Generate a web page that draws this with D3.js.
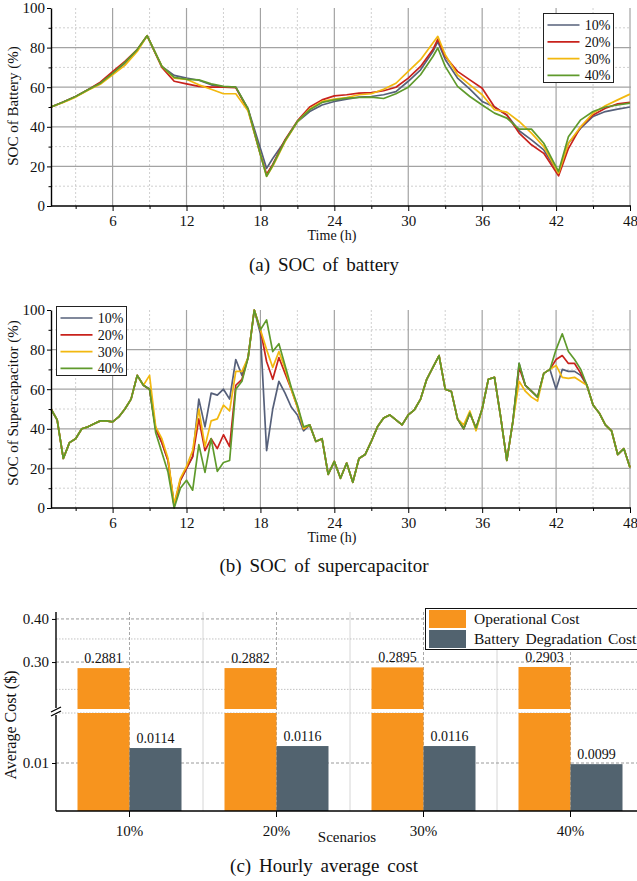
<!DOCTYPE html>
<html><head><meta charset="utf-8">
<script src="https://cdn.jsdelivr.net/npm/d3@7"></script>
<style>
body{margin:0;background:#fff}
svg{display:block;background:#fff}
text{font-family:"Liberation Serif","Times New Roman",serif;fill:#111}
</style>
</head><body>
<svg id="chart" width="637" height="881"></svg>
<script>
// ---------- DATA ----------
const seriesNames = ["10%", "20%", "30%", "40%"];
const seriesColors = ["#56607a", "#c8221c", "#f2b80f", "#5f9a2c"];

const xMajorTicks = [6, 12, 18, 24, 30, 36, 42, 48];
const xMinorTicks = [3, 9, 15, 21, 27, 33, 39, 45];
const yMajorTicks = [0, 20, 40, 60, 80, 100];
const yMinorTicks = [10, 30, 50, 70, 90];

// (a) battery SOC
const hoursA = [1,2,3,4,5,6,7,8,8.8,10,11,12,13,14,15,16,17,18,18.5,19,20,21,22,23,24,25,26,27,28,29,30,31,32,32.4,33,34,35,36,37,38,39,40,41,42.2,43,44,45,46,47,48];
const battery10 = [50,52.5,55.3,58.7,62,67,72,78.5,86,70.5,66,64.6,63.5,61.2,60,60,49,29,19,24,33,42.5,47.7,51,52.8,54,55,55.3,56.2,57.8,63,68.8,78,83,74,64.6,59,52.8,50,46,38,33.4,28.3,16.5,31.7,39.3,45.2,47.7,48.9,50];
const battery20 = [50,52.5,55.3,58.7,62.5,67.8,73,79,86,70,63,61.7,60.4,60,60,59.8,48.5,26,16,21,33.5,43,50,53.6,55.6,56.2,57,57.3,58.2,60,64.6,70.5,79,84.3,75.5,68,63.7,59.5,50,46,36.8,30.9,26.6,15.2,29,40,46,49.4,51.6,52.3];
const battery30 = [50,52.3,55,58.5,61.5,66.3,71,78,86,70.5,64.6,64,61.2,59,56.7,56.7,48,26,15,20,32.5,42.5,49,52.8,54,54.8,56.2,56.7,59,62,68,73.9,82.3,85.7,76.4,66.3,61.2,56.2,48.6,47.4,42.7,36.8,30,16.5,31.7,40,46.9,50.6,53.6,56.5];
const battery40 = [50,52.5,55.3,58.7,62,67,72.5,79,86,70.5,65,64,63.7,61.7,60.4,60,49,26,15,20.5,33,42.7,48.6,52.3,53.6,54.5,54.8,55,54.3,56.7,60,66.3,75.5,79.8,70.5,60.4,55.3,51,46.9,44.4,38.8,38.8,31.7,17.4,35,43.5,47.7,50,51,52];

// (b) supercapacitor SOC (half-hourly)
const hoursB = [1,1.5,2,2.5,3,3.5,4,4.5,5,5.5,6,6.5,7,7.5,8,8.5,9,9.5,10,10.5,11,11.5,12,12.5,13,13.5,14,14.5,15,15.5,16,16.5,17,17.5,18,18.5,19,19.5,20,20.5,21,21.5,22,22.5,23,23.5,24,24.5,25,25.5,26,26.5,27,27.5,28,28.5,29,29.5,30,30.5,31,31.5,32,32.5,33,33.5,34,34.5,35,35.5,36,36.5,37,37.5,38,38.5,39,39.5,40,40.5,41,41.5,42,42.5,43,43.5,44,44.5,45,45.5,46,46.5,47,47.5,48];
const supercap10 = [50,44.5,25,33,35,40,41,42.5,44,44,
  43.5,46,50,55,67,62,60,40,33,24,
  1,14,20,26,55,41,58,57,60,55,
  75,67,76,100,88,29,50,64,58,51,
  47,39,42,33.6,35,17,23.5,15,22.7,13,
  25,27,33.6,41,45.4,47,44.5,42,47,49.6,
  55,65,71,77,60,58.8,45,40,48,40.3,
  50,65,66,46,24,44,73,62,59,56,
  68,70,60,70,69,69,67,62,52,48,
  42,39,27,30,20.5];
const supercap20 = [50,44.5,25,33,35,40,41,42.5,44,44,
  43.5,46,50,55,67,62,60,40,33,24,
  1,14,20,26,45,29,35,30,37,31,
  62,65,76,100,90,74,65,76,68,60,
  51,40,42,33.6,35,17,23.5,15,22.7,13,
  25,27,33.6,41,45.4,47,44.5,42,47,49.6,
  55,65,71,77,60,58.8,45,40,48,40.3,
  50,65,66,46,24,44,71,62,59,56,
  68,70,75,77,73,73,68,62,52,48,
  42,39,27,30,20.5];
const supercap30 = [50,44.5,25,33,35,40,41,42.5,44,44,
  43.5,46,50,55,67,62,67,41,35,25,
  2,15,21,29,50,31,44,45,52,49,
  69,69,76,100,90,80,71,79,70.5,60,
  51,40,42,33.6,35,17,23.5,15,22.7,13,
  25,27,33.6,41,45.4,47,44.5,42,47,49.6,
  55,65,71,77,60,58.8,45,42,49,39,
  50,65,66,46,24,44,64,59,56,54,
  68,70,72,66,65.5,66,64,62,52,48,
  42,39,27,30,20.5];
const supercap40 = [50,44.5,25,33,35,40,41,42.5,44,44,
  43.5,46,50,55,67,62,60,38,28,18,
  0,10,14,9,32,18,35,18.5,23,24,
  60,64,76,100,90,95,79,83,72,61,
  52,41,42,33.6,35,17,23.5,15,22.7,13,
  25,27,33.6,41,45.4,47,44.5,42,47,49.6,
  55,65,71,77,60,58.8,45,40,48,40.3,
  50,65,66,46,24,44,73,62,59,56,
  68,70,80,88,79,75,70,62,52,48,
  42,39,27,30,20.5];

// (c) hourly average cost
const scenarios = ["10%", "20%", "30%", "40%"];
const operationalCost = [0.2881, 0.2882, 0.2895, 0.2903];
const degradationCost = [0.0114, 0.0116, 0.0116, 0.0099];
const costTopTicks = [0.40, 0.30];
const costTopMinor = [0.35, 0.25];
const costBottomTicks = [0.01];
const costSeries = ["Operational Cost", "Battery Degradation Cost"];
const costColors = ["#f7941e", "#52636f"];

// ---------- DRAWING ----------
const svg = d3.select("#chart");
const FONT = '"Liberation Serif","Times New Roman",serif';

function styleAxis(g, size) {
  g.attr("font-family", FONT).attr("font-size", size);
  g.selectAll("text").attr("fill", "#111");
  g.select(".domain").attr("stroke", "#000").attr("stroke-width", 1.4);
  g.selectAll(".tick line").attr("stroke", "#000").attr("stroke-width", 1);
}

function lineChart(opt) {
  const g = svg.append("g");
  const x = d3.scaleLinear().domain([1, 48]).range([51, 630]);
  const y = d3.scaleLinear().domain([0, 100]).range([opt.bottom, opt.top]);
  const left = 51, right = 631;

  // minor grid
  g.selectAll(".vminor").data(xMinorTicks).join("line")
    .attr("x1", d => x(d)).attr("x2", d => x(d))
    .attr("y1", opt.top).attr("y2", opt.bottom)
    .attr("stroke", "#c4c4c4").attr("stroke-width", 0.8).attr("stroke-dasharray", "2,2");
  g.selectAll(".hminor").data(yMinorTicks).join("line")
    .attr("x1", left).attr("x2", right)
    .attr("y1", d => y(d)).attr("y2", d => y(d))
    .attr("stroke", "#c4c4c4").attr("stroke-width", 0.8).attr("stroke-dasharray", "2,2");
  // major grid
  g.selectAll(".vmajor").data(xMajorTicks).join("line")
    .attr("x1", d => x(d)).attr("x2", d => x(d))
    .attr("y1", opt.top).attr("y2", opt.bottom)
    .attr("stroke", "#a3a3a3").attr("stroke-width", 1.2);
  g.selectAll(".hmajor").data(yMajorTicks.filter(d => d > 0 && d < 100)).join("line")
    .attr("x1", left).attr("x2", right)
    .attr("y1", d => y(d)).attr("y2", d => y(d))
    .attr("stroke", "#a3a3a3").attr("stroke-width", 1.2);

  // lines
  const line = d3.line().x(d => x(d[0])).y(d => y(d[1]));
  opt.series.forEach((vals, i) => {
    g.append("path")
      .datum(opt.hours.map((h, j) => [h, vals[j]]))
      .attr("d", line)
      .attr("fill", "none")
      .attr("stroke", seriesColors[i])
      .attr("stroke-width", 1.7)
      .attr("stroke-linejoin", "round");
  });

  // axes
  const xAxisMinor = g.append("g").attr("transform", `translate(0,${opt.bottom})`)
    .call(d3.axisBottom(x).tickValues(xMinorTicks).tickSize(3).tickSizeOuter(0).tickFormat(""));
  xAxisMinor.select(".domain").remove();
  styleAxis(xAxisMinor, 15);
  const xAxis = g.append("g").attr("transform", `translate(0,${opt.bottom})`)
    .call(d3.axisBottom(x).tickValues(xMajorTicks).tickSize(5).tickSizeOuter(0).tickPadding(4).tickFormat(d3.format("d")));
  styleAxis(xAxis, 15);
  xAxis.select(".domain").attr("d", `M${left},0H${right}`);

  const yAxisMinor = g.append("g").attr("transform", `translate(${left},0)`)
    .call(d3.axisLeft(y).tickValues(yMinorTicks).tickSize(2.5).tickSizeOuter(0).tickFormat(""));
  yAxisMinor.select(".domain").remove();
  styleAxis(yAxisMinor, 15);
  const yAxis = g.append("g").attr("transform", `translate(${left},0)`)
    .call(d3.axisLeft(y).tickValues(yMajorTicks).tickSize(4).tickSizeOuter(0).tickPadding(2).tickFormat(d3.format("d")));
  styleAxis(yAxis, 15);

  // axis titles
  g.append("text").attr("x", 332).attr("y", opt.bottom + 34)
    .attr("text-anchor", "middle").attr("font-size", 14).text("Time (h)");
  g.append("text")
    .attr("transform", `translate(18,${opt.labelY}) rotate(-90)`)
    .attr("text-anchor", "middle").attr("font-size", 15).text(opt.yLabel);

  // legend
  const L = opt.legend;
  const lg = g.append("g");
  lg.append("rect").attr("x", L.x).attr("y", L.y).attr("width", 70).attr("height", 69)
    .attr("fill", "#fff").attr("stroke", "#222").attr("stroke-width", 1);
  seriesNames.forEach((name, i) => {
    const yy = L.y + 11.5 + i * 16.8;
    lg.append("line").attr("x1", L.x + 4).attr("x2", L.x + 36)
      .attr("y1", yy).attr("y2", yy).attr("stroke", seriesColors[i]).attr("stroke-width", 1.7);
    lg.append("text").attr("x", L.x + 67).attr("y", yy + 5)
      .attr("text-anchor", "end").attr("font-size", 14).text(name);
  });

  // caption
  svg.append("text").attr("x", 324).attr("y", opt.captionY)
    .attr("text-anchor", "middle").attr("font-size", 19).attr("word-spacing", 3)
    .text(opt.caption);
}

lineChart({
  top: 8, bottom: 206, hours: hoursA,
  series: [battery10, battery20, battery30, battery40],
  yLabel: "SOC of Battery (%)", labelY: 106,
  legend: {x: 543.5, y: 13.5},
  caption: "(a) SOC of battery", captionY: 271
});
lineChart({
  top: 310, bottom: 508, hours: hoursB,
  series: [supercap10, supercap20, supercap30, supercap40],
  yLabel: "SOC of Supercapacitor (%)", labelY: 403,
  legend: {x: 56.5, y: 306.5},
  caption: "(b) SOC of supercapacitor", captionY: 572
});

// ---------- (c) broken-axis bar chart ----------
(function() {
  const g = svg.append("g");
  const axisX = 56, plotTop = 612, plotBottom = 811, plotRight = 644;
  const topSegBottom = 709, botSegTop = 713;
  const x = d3.scaleBand().domain(scenarios).range([axisX, plotRight]);
  const xs = d3.scaleBand().domain(costSeries).range([0, 104]);
  const yTop = d3.scaleLog().domain([0.2193, 0.419]).range([topSegBottom, plotTop]);
  const yBot = d3.scaleLog().domain([0.00657, 0.01549]).range([plotBottom, botSegTop]);

  g.selectAll(".sep").data(scenarios.slice(1)).join("line")
    .attr("x1", d => x(d)).attr("x2", d => x(d))
    .attr("y1", plotTop).attr("y2", plotBottom)
    .attr("stroke", "#d6d6d6").attr("stroke-width", 1);
  g.selectAll(".hmin").data(costTopMinor).join("line")
    .attr("x1", axisX).attr("x2", plotRight)
    .attr("y1", d => yTop(d)).attr("y2", d => yTop(d))
    .attr("stroke", "#c2c2c2").attr("stroke-width", 1).attr("stroke-dasharray", "1.5,1.5");
  g.append("line").attr("x1", axisX).attr("x2", plotRight)
    .attr("y1", botSegTop).attr("y2", botSegTop)
    .attr("stroke", "#c2c2c2").attr("stroke-width", 1).attr("stroke-dasharray", "1.5,1.5");
  g.selectAll(".hmajT").data(costTopTicks).join("line")
    .attr("x1", axisX).attr("x2", plotRight)
    .attr("y1", d => yTop(d)).attr("y2", d => yTop(d))
    .attr("stroke", "#9a9a9a").attr("stroke-width", 1).attr("stroke-dasharray", "3,2");
  g.selectAll(".hmajB").data(costBottomTicks).join("line")
    .attr("x1", axisX).attr("x2", plotRight)
    .attr("y1", d => yBot(d)).attr("y2", d => yBot(d))
    .attr("stroke", "#9a9a9a").attr("stroke-width", 1).attr("stroke-dasharray", "3,2");
  g.selectAll(".vc").data(scenarios).join("line")
    .attr("x1", d => x(d) + x.bandwidth() / 2).attr("x2", d => x(d) + x.bandwidth() / 2)
    .attr("y1", plotTop).attr("y2", plotBottom)
    .attr("stroke", "#a8a8a8").attr("stroke-width", 1).attr("stroke-dasharray", "3,2");

  scenarios.forEach((s, i) => {
    const x0 = x(s) + x.bandwidth() / 2 - 52;
    const op = operationalCost[i], dg = degradationCost[i];
    g.append("rect").attr("x", x0 + xs(costSeries[0])).attr("width", xs.bandwidth())
      .attr("y", yTop(op)).attr("height", topSegBottom - yTop(op)).attr("fill", costColors[0]);
    g.append("rect").attr("x", x0 + xs(costSeries[0])).attr("width", xs.bandwidth())
      .attr("y", botSegTop).attr("height", plotBottom - botSegTop).attr("fill", costColors[0]);
    g.append("rect").attr("x", x0 + xs(costSeries[1])).attr("width", xs.bandwidth())
      .attr("y", yBot(dg)).attr("height", plotBottom - yBot(dg)).attr("fill", costColors[1]);
    g.append("text").attr("x", x0 + xs(costSeries[0]) + xs.bandwidth() / 2).attr("y", yTop(op) - 5)
      .attr("text-anchor", "middle").attr("font-size", 14).text(op.toFixed(4));
    g.append("text").attr("x", x0 + xs(costSeries[1]) + xs.bandwidth() / 2).attr("y", yBot(dg) - 5)
      .attr("text-anchor", "middle").attr("font-size", 14).text(dg.toFixed(4));
  });

  const yaT = g.append("g").attr("transform", `translate(${axisX},0)`)
    .call(d3.axisLeft(yTop).tickValues(costTopTicks).tickSize(4).tickSizeOuter(0).tickPadding(3).tickFormat(d3.format(".2f")));
  styleAxis(yaT, 15);
  yaT.select(".domain").attr("d", `M0,${plotTop}V${topSegBottom - 1}`);
  const yaB = g.append("g").attr("transform", `translate(${axisX},0)`)
    .call(d3.axisLeft(yBot).tickValues(costBottomTicks).tickSize(4).tickSizeOuter(0).tickPadding(3).tickFormat(d3.format(".2f")));
  styleAxis(yaB, 15);
  yaB.select(".domain").attr("d", `M0,${botSegTop + 2}V${plotBottom}`);
  [0, 4].forEach(o => {
    g.append("line").attr("x1", axisX - 5).attr("x2", axisX + 5)
      .attr("y1", 712 + o).attr("y2", 707 + o)
      .attr("stroke", "#000").attr("stroke-width", 1.3);
  });

  const xa = g.append("g").attr("transform", `translate(0,${plotBottom})`)
    .call(d3.axisBottom(x).tickSize(6).tickSizeOuter(0).tickPadding(8));
  styleAxis(xa, 15);
  xa.select(".domain").attr("d", `M${axisX},0H${plotRight}`);

  g.append("text").attr("x", 347).attr("y", 842).attr("text-anchor", "middle")
    .attr("font-size", 15).text("Scenarios");
  g.append("text").attr("transform", "translate(16,725) rotate(-90)")
    .attr("text-anchor", "middle").attr("font-size", 16).text("Average Cost ($)");

  const lg = g.append("g");
  lg.append("rect").attr("x", 425.5).attr("y", 608.5).attr("width", 240).attr("height", 41)
    .attr("fill", "#fff").attr("stroke", "#111").attr("stroke-width", 1);
  costSeries.forEach((name, i) => {
    lg.append("rect").attr("x", 429).attr("y", 610 + i * 20).attr("width", 37).attr("height", 18)
      .attr("fill", costColors[i]);
    lg.append("text").attr("x", 474).attr("y", 624 + i * 20).attr("font-size", 15.5)
      .attr("word-spacing", i === 1 ? 2 : 0).text(name);
  });

  svg.append("text").attr("x", 324).attr("y", 872).attr("text-anchor", "middle")
    .attr("font-size", 19).attr("word-spacing", 3).text("(c) Hourly average cost");
})();
</script>
</body></html>
